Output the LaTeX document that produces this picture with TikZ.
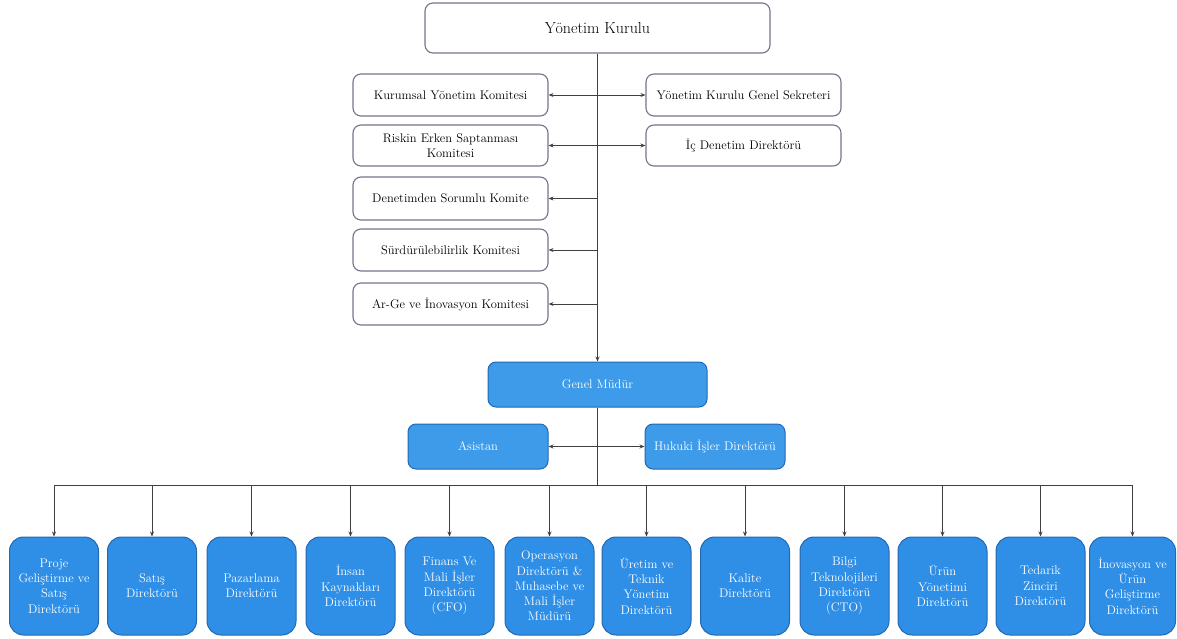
\documentclass[tikz,border=0pt]{standalone}
\usepackage{fontspec}
\usetikzlibrary{arrows.meta}
\definecolor{bluefill}{HTML}{2F8FE6}
\definecolor{gmfill}{HTML}{3D9BE9}
\definecolor{blueline}{HTML}{2468B0}
\definecolor{grayline}{HTML}{74748A}
\definecolor{conn}{HTML}{404040}
\tikzset{
  wbox/.style={draw=grayline, line width=1.1pt, fill=white, rounded corners=8pt, inner sep=1pt, align=center,
    font=\fontsize{12.5}{15}\selectfont, text=black},
  bbox/.style={draw=blueline, line width=1pt, fill=gmfill, rounded corners=8pt, inner sep=1pt, align=center,
    font=\fontsize{12.5}{15}\selectfont, text=white},
  dbox/.style={draw=blueline, line width=1pt, fill=bluefill, rounded corners=14pt, inner sep=1pt, align=center,
    font=\fontsize{12.5}{15.3}\selectfont, text=white, minimum width=89pt, minimum height=98pt, text width=86pt},
  arr/.style={draw=conn, line width=0.8pt, -{Stealth[length=5pt,width=4pt]}},
  darr/.style={draw=conn, line width=0.8pt, {Stealth[length=5pt,width=4pt]}-{Stealth[length=5pt,width=4pt]}},
  ln/.style={draw=conn, line width=0.8pt}
}
\begin{document}
\begin{tikzpicture}[x=1pt,y=-1pt]
\useasboundingbox (0,0) rectangle (1177,639);
% top
\node[wbox, minimum width=345pt, minimum height=50pt, font=\fontsize{16}{18}\selectfont] (yk) at (597.5,28) {Yönetim Kurulu};
\node[wbox, minimum width=195pt, minimum height=42pt] (kym) at (450.5,95) {Kurumsal Yönetim Komitesi};
\node[wbox, minimum width=195pt, minimum height=41pt] (rek) at (450.5,145.5) {Riskin Erken Saptanması\\Komitesi};
\node[wbox, minimum width=195pt, minimum height=42pt] (ykgs) at (743.5,95) {Yönetim Kurulu Genel Sekreteri};
\node[wbox, minimum width=195pt, minimum height=41pt] (idd) at (743.5,145.5) {İç Denetim Direktörü};
\node[wbox, minimum width=195pt, minimum height=43pt] (dsk) at (450.5,198.5) {Denetimden Sorumlu Komite};
\node[wbox, minimum width=195pt, minimum height=42pt] (sk) at (450.5,250) {Sürdürülebilirlik Komitesi};
\node[wbox, minimum width=195pt, minimum height=42pt] (aik) at (450.5,304) {Ar-Ge ve İnovasyon Komitesi};
% general manager
\node[bbox, minimum width=219pt, minimum height=45pt] (gm) at (597.5,384.5) {Genel Müdür};
\node[bbox, minimum width=140pt, minimum height=45pt] (as) at (478,446.5) {Asistan};
\node[bbox, minimum width=140pt, minimum height=45pt] (hid) at (715,446.5) {Hukuki İşler Direktörü};
% directors
\node[dbox] (d1) at (54,586) {Proje\\Geliştirme ve\\Satış\\Direktörü};
\node[dbox] (d2) at (152,586) {Satış\\Direktörü};
\node[dbox] (d3) at (251.5,586) {Pazarlama\\Direktörü};
\node[dbox] (d4) at (350.5,586) {İnsan\\Kaynakları\\Direktörü};
\node[dbox] (d5) at (449.5,586) {Finans Ve\\Mali İşler\\Direktörü\\(CFO)};
\node[dbox] (d6) at (549.5,586) {Operasyon\\Direktörü \&\\Muhasebe ve\\Mali İşler\\Müdürü};
\node[dbox] (d7) at (646.5,586) {Üretim ve\\Teknik\\Yönetim\\Direktörü};
\node[dbox] (d8) at (745,586) {Kalite\\Direktörü};
\node[dbox] (d9) at (844.5,586) {Bilgi\\Teknolojileri\\Direktörü\\(CTO)};
\node[dbox] (d10) at (942.5,586) {Ürün\\Yönetimi\\Direktörü};
\node[dbox] (d11) at (1040.5,586) {Tedarik\\Zinciri\\Direktörü};
\node[dbox, minimum width=86pt, text width=84pt] (d12) at (1132.5,586) {İnovasyon ve\\Ürün\\Geliştirme\\Direktörü};
% connectors
\draw[arr] (yk.south) -- (gm.north);
\draw[darr] (kym.east) -- (ykgs.west);
\draw[darr] (rek.east) -- (idd.west);
\draw[arr] (yk.south |- dsk.east) -- (dsk.east);
\draw[arr] (yk.south |- sk.east) -- (sk.east);
\draw[arr] (yk.south |- aik.east) -- (aik.east);
\draw[darr] (as.east) -- (hid.west);
\coordinate (bus) at (597.5,485);
\draw[ln] (gm.south) -- (bus);
\foreach \d in {d1,d2,d3,d4,d5,d6,d7,d8,d9,d10,d11,d12}
  \draw[arr] (bus) -| (\d.north);
\end{tikzpicture}
\end{document}
